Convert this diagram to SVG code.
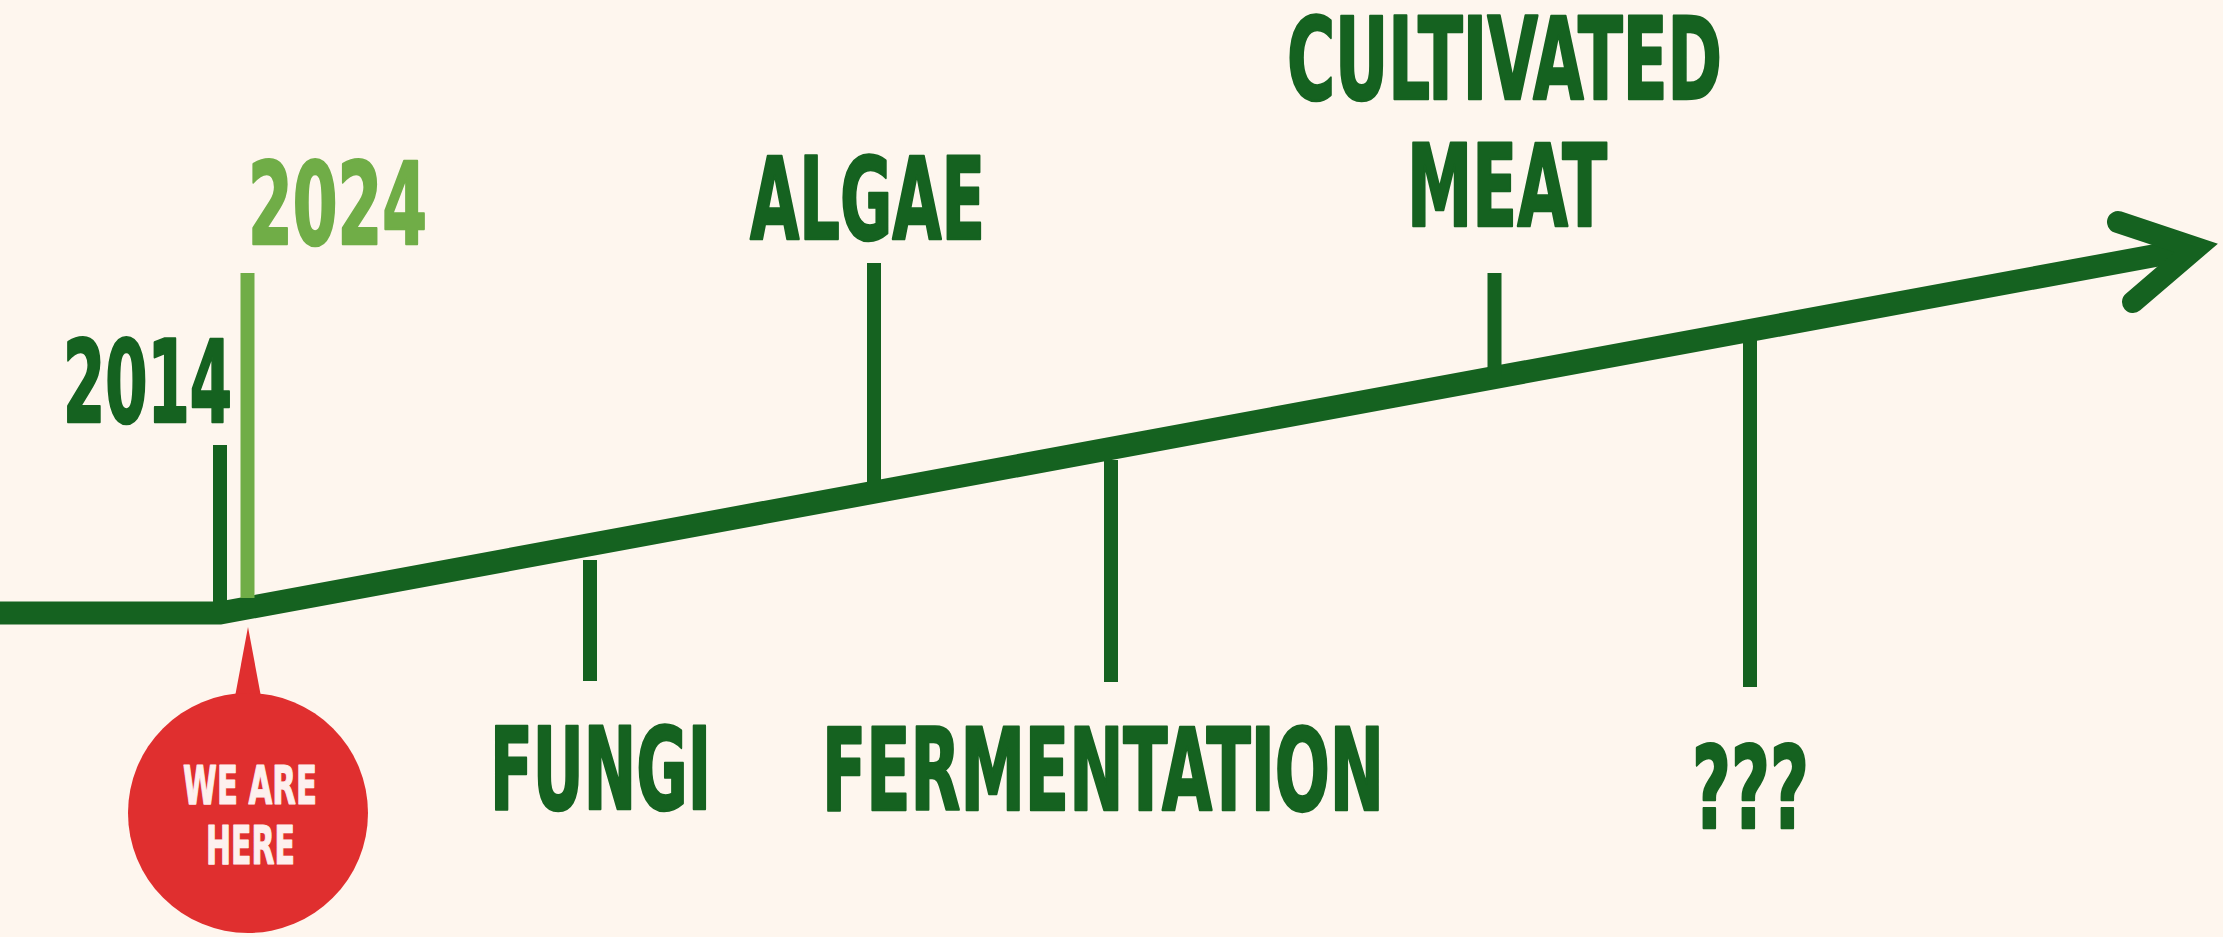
<svg xmlns="http://www.w3.org/2000/svg" width="2223" height="937" viewBox="0 0 2223 937">
  <style>
    .lbl { font-family: "Liberation Sans Narrow", "DejaVu Sans Condensed", "Liberation Sans", Arial, sans-serif; font-stretch: condensed; font-weight: bold; fill: #156220; stroke: #156220; stroke-width: 2.5; stroke-linejoin: round; font-size: 114px; }
    .light { fill: #70ad47; stroke: #70ad47; }
    .tick { stroke: #156220; stroke-width: 14; fill: none; }
    .tick-light { stroke: #70ad47; stroke-width: 14; fill: none; }
    .axis { stroke: #156220; stroke-width: 23; fill: none; stroke-linejoin: miter; }
    .head { stroke: #156220; stroke-width: 22; fill: none; stroke-linecap: round; stroke-linejoin: miter; stroke-miterlimit: 4; }
    .bubble-text { font-family: "Liberation Sans Narrow", "DejaVu Sans Condensed", "Liberation Sans", Arial, sans-serif; font-stretch: condensed; font-weight: bold; fill: #fdf0ee; stroke: #fdf0ee; stroke-width: 1.2; stroke-linejoin: round; font-size: 54px; }
  </style>
  <rect x="0" y="0" width="2223" height="937" fill="#fef6ee"/>

  <g id="connectors">
    <path class="axis" d="M -10 613 L 220 613 L 2196 248"/>
    <path class="head" d="M 2118 222 L 2196 248 L 2133 302"/>
  </g>

  <g id="node-2014">
    <line class="tick" x1="220" y1="445" x2="220" y2="610"/>
    <text class="lbl" x="63" y="422" textLength="169" lengthAdjust="spacingAndGlyphs">2014</text>
  </g>

  <g id="node-2024">
    <line class="tick-light" x1="247.5" y1="273" x2="247.5" y2="598"/>
    <text class="lbl light" x="248" y="244" textLength="179" lengthAdjust="spacingAndGlyphs">2024</text>
  </g>

  <g id="node-algae">
    <line class="tick" x1="874" y1="263" x2="874" y2="490"/>
    <text class="lbl" x="750" y="239" textLength="235" lengthAdjust="spacingAndGlyphs">ALGAE</text>
  </g>

  <g id="node-cultivated-meat">
    <line class="tick" x1="1494.5" y1="273" x2="1494.5" y2="376"/>
    <text class="lbl" x="1287" y="99" textLength="435" lengthAdjust="spacingAndGlyphs">CULTIVATED</text>
    <text class="lbl" x="1407" y="226" textLength="200" lengthAdjust="spacingAndGlyphs">MEAT</text>
  </g>

  <g id="node-fungi">
    <line class="tick" x1="590" y1="560" x2="590" y2="681"/>
    <text class="lbl" x="490" y="809" textLength="221" lengthAdjust="spacingAndGlyphs">FUNGI</text>
  </g>

  <g id="node-fermentation">
    <line class="tick" x1="1111" y1="460" x2="1111" y2="682"/>
    <text class="lbl" x="822" y="810" textLength="562" lengthAdjust="spacingAndGlyphs">FERMENTATION</text>
  </g>

  <g id="node-unknown">
    <line class="tick" x1="1750" y1="340" x2="1750" y2="687"/>
    <text class="lbl" x="1692" y="828" textLength="117" lengthAdjust="spacingAndGlyphs">???</text>
  </g>

  <g id="node-we-are-here">
    <path d="M 248 627 L 262 702 L 234 702 Z" fill="#e02f2f"/>
    <circle cx="248" cy="813" r="120" fill="#e02f2f"/>
    <text class="bubble-text" x="183" y="804" textLength="134" lengthAdjust="spacingAndGlyphs">WE ARE</text>
    <text class="bubble-text" x="206" y="864" textLength="89" lengthAdjust="spacingAndGlyphs">HERE</text>
  </g>
</svg>
